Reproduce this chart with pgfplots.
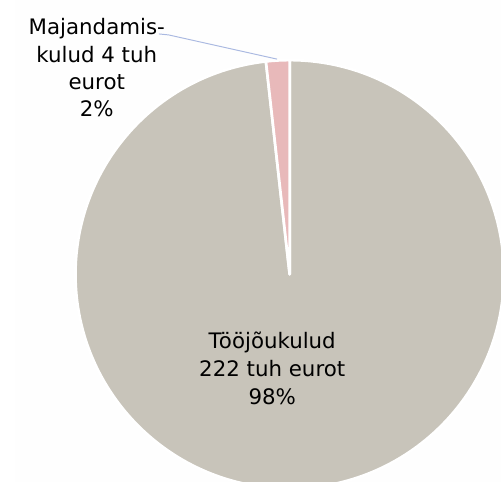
\documentclass[border=0pt]{standalone}
\usepackage{pgfplots}
\usepackage{pgfplotstable}
\pgfplotsset{compat=1.18}
\usepackage{fontspec}
\setmainfont{DejaVu Sans}
\definecolor{slicegray}{RGB}{200,196,186}
\definecolor{slicepink}{RGB}{232,185,186}
\definecolor{leader}{RGB}{170,185,225}
\definecolor{bgwhite}{RGB}{254,254,254}
\pgfplotstableread{
name value
Toojoukulud 222
Majandamiskulud 4
}\piedata
\begin{document}
\pgfplotstablegetelem{0}{value}\of\piedata \let\va\pgfplotsretval
\pgfplotstablegetelem{1}{value}\of\piedata \let\vb\pgfplotsretval
\pgfmathsetmacro{\tot}{\va+\vb}
\pgfmathsetmacro{\fa}{\va/\tot}
\pgfmathsetmacro{\aA}{90}
\pgfmathsetmacro{\aB}{90-360*\fa}
\pgfmathsetmacro{\aC}{90-360}
\begin{tikzpicture}
\begin{axis}[at={(0,0)},anchor=south west,width=501bp,height=497bp,scale only axis,
  xmin=0,xmax=501,ymin=0,ymax=497,hide axis,clip=false]
\fill[bgwhite] (axis cs:0,0) rectangle (axis cs:501,497);
\begin{scope}
\clip (axis cs:0,0) rectangle (axis cs:501,497);
\filldraw[fill=slicegray,draw=white,line width=2.8bp,line join=round]
  (axis cs:283,214) -- ++(\aA:221bp) arc[start angle=\aA,end angle=\aB,radius=221bp] -- cycle;
\filldraw[fill=slicepink,draw=white,line width=2.8bp,line join=round]
  (axis cs:283,214) -- ++(\aB:221bp) arc[start angle=\aB,end angle=\aC,radius=221bp] -- cycle;
\end{scope}
\draw[leader,line width=1bp] (axis cs:148,462) -- (axis cs:158,461) -- (axis cs:270,436);
\begin{scope}[every node/.style={anchor=base,inner sep=0pt,font=\fontsize{22bp}{28bp}\selectfont}]
\node at (axis cs:84,461) {Majandamis-};
\node at (axis cs:84,433) {kulud 4 tuh};
\node at (axis cs:84,405) {eurot};
\node at (axis cs:84,377) {2\%};
\node at (axis cs:265,138) {Tööjõukulud};
\node at (axis cs:265,109) {222 tuh eurot};
\node at (axis cs:265,80) {98\%};
\end{scope}
\end{axis}
\pgfresetboundingbox
\path[use as bounding box] (0,0) rectangle (501bp,497bp);
\end{tikzpicture}
\end{document}
